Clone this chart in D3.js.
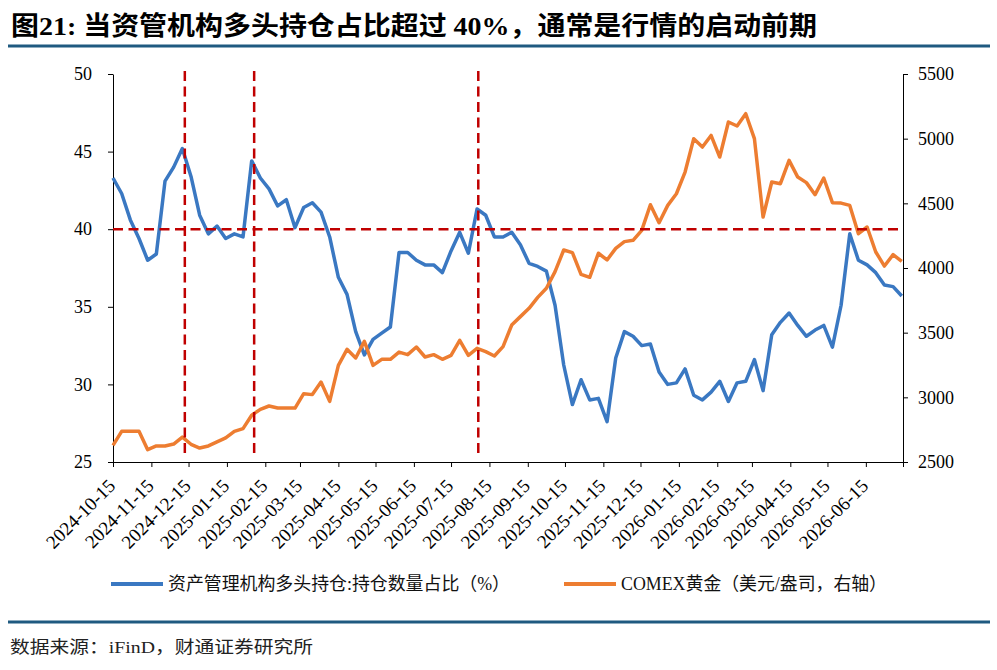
<!DOCTYPE html>
<html>
<head>
<meta charset="utf-8">
<script src="https://cdn.jsdelivr.net/npm/d3@7"></script>
<style>
  body { margin: 0; background: #fff; }
  svg { display: block; }
  .axis text { font-family: "Liberation Serif", "Times New Roman", serif; font-size: 18px; fill: #000; }
  .axis path, .axis line { stroke: #000; }
</style>
</head>
<body>
<svg id="chart"></svg>
<script>
// weekly data (Tuesdays), first week 2024-10-15
const startDate = "2024-10-15";
const axisEnd = "2026-07-15";

// 资产管理机构多头持仓:持仓数量占比（%）
const longShare = [
  43.3, 42.3, 40.6, 39.4, 38.0, 38.4, 43.1, 44.0, 45.2, 43.4,
  40.9, 39.7, 40.2, 39.4, 39.7, 39.5, 44.4, 43.3, 42.6, 41.5,
  41.9, 40.1, 41.4, 41.7, 41.1, 39.5, 36.9, 35.8, 33.4, 31.9,
  32.9, 33.3, 33.7, 38.5, 38.5, 38.0, 37.7, 37.7, 37.2, 38.6,
  39.8, 38.45, 41.3, 40.9, 39.5, 39.5, 39.8, 39.0, 37.8, 37.6,
  37.3, 35.1, 31.25, 28.7, 30.3, 29.0, 29.1, 27.6, 31.7, 33.4,
  33.1, 32.5, 32.6, 30.8, 30.0, 30.1, 31.0, 29.3, 29.0, 29.5,
  30.2, 28.9, 30.1, 30.2, 31.6, 29.6, 33.2, 34.0, 34.6, 33.8,
  33.1, 33.5, 33.8, 32.4, 35.1, 39.7, 38.0, 37.7, 37.2, 36.4,
  36.3, 35.7
];

// COMEX黄金（美元/盎司，右轴）
const goldPrice = [
  2629, 2737, 2737, 2737, 2595, 2624, 2624, 2639, 2693, 2637,
  2608, 2624, 2655, 2686, 2737, 2758, 2861, 2907, 2933, 2917,
  2917, 2917, 3028, 3021, 3118, 2969, 3247, 3371, 3304, 3433,
  3247, 3294, 3294, 3350, 3330, 3389, 3312, 3330, 3294, 3325,
  3441, 3325, 3379, 3353, 3320, 3392, 3559, 3624, 3688, 3773,
  3843, 3972, 4139, 4119, 3951, 3928, 4114, 4062, 4152, 4204,
  4214, 4291, 4489, 4350, 4484, 4574, 4742, 5000, 4935, 5025,
  4858, 5129, 5098, 5193, 5000, 4394, 4665, 4652, 4832, 4703,
  4660, 4567, 4696, 4505, 4502, 4484, 4265, 4317, 4124, 4015,
  4103, 4051
];

const xTickLabels = [
  "2024-10-15", "2024-11-15", "2024-12-15", "2025-01-15", "2025-02-15",
  "2025-03-15", "2025-04-15", "2025-05-15", "2025-06-15", "2025-07-15",
  "2025-08-15", "2025-09-15", "2025-10-15", "2025-11-15", "2025-12-15",
  "2026-01-15", "2026-02-15", "2026-03-15", "2026-04-15", "2026-05-15",
  "2026-06-15"
];
const leftTicks = [25, 30, 35, 40, 45, 50];
const rightTicks = [2500, 3000, 3500, 4000, 4500, 5000, 5500];
const markerDates = ["2024-12-12", "2025-02-06", "2025-08-06"];
const threshold = 40;

const title = "图21: 当资管机构多头持仓占比超过 40%，通常是行情的启动前期";
const legendNames = ["资产管理机构多头持仓:持仓数量占比（%）", "COMEX黄金（美元/盎司，右轴）"];
const source = "数据来源：iFinD，财通证券研究所";

const blue = "#3a78c2";
const orange = "#ed7d31";
const red = "#c00000";
const rule = "#1f5a80";

const W = 997, H = 670;
const plot = { left: 113, right: 903, top: 74, bottom: 462 };

const parse = d3.utcParse("%Y-%m-%d");
const weeks = d3.utcTuesday.range(parse(startDate), d3.utcDay.offset(parse(startDate), 7 * longShare.length));
const data = weeks.map((d, i) => ({ date: d, share: longShare[i], gold: goldPrice[i] }));

const svg = d3.select("#chart").attr("width", W).attr("height", H);
svg.append("rect").attr("width", W).attr("height", H).attr("fill", "#fff");

const x = d3.scaleUtc()
  .domain([parse(startDate), parse(axisEnd)])
  .range([plot.left, plot.right]);
const yL = d3.scaleLinear().domain([25, 50]).range([plot.bottom, plot.top]);
const yR = d3.scaleLinear().domain([2500, 5500]).range([plot.bottom, plot.top]);

// title + rules
svg.append("text")
  .attr("x", 11).attr("y", 35)
  .attr("textLength", 806).attr("lengthAdjust", "spacingAndGlyphs")
  .style("font-family", '"Liberation Serif", "Noto Sans CJK SC", serif')
  .style("font-weight", "bold").style("font-size", "26px").attr("fill", "#000")
  .text(title);
svg.append("line").attr("x1", 8).attr("x2", 990).attr("y1", 46).attr("y2", 46)
  .attr("stroke", rule).attr("stroke-width", 3);
svg.append("line").attr("x1", 8).attr("x2", 990).attr("y1", 622).attr("y2", 622)
  .attr("stroke", rule).attr("stroke-width", 3);
svg.append("text")
  .attr("x", 10).attr("y", 653)
  .attr("textLength", 303).attr("lengthAdjust", "spacingAndGlyphs")
  .style("font-family", '"Liberation Serif", "Noto Sans CJK SC", serif')
  .style("font-size", "17px").attr("fill", "#222")
  .text(source);

// axes
svg.append("g").attr("class", "axis")
  .attr("transform", `translate(${plot.left},0)`)
  .call(d3.axisLeft(yL).tickValues(leftTicks).tickSize(5).tickSizeOuter(0).tickPadding(16));

svg.append("g").attr("class", "axis")
  .attr("transform", `translate(${plot.right},0)`)
  .call(d3.axisRight(yR).tickValues(rightTicks).tickFormat(d3.format("d"))
    .tickSize(5).tickSizeOuter(0).tickPadding(10));

const xTicks = xTickLabels.map(parse).concat([parse(axisEnd)]);
const fmt = d3.utcFormat("%Y-%m-%d");
const xAxis = svg.append("g").attr("class", "axis")
  .attr("transform", `translate(0,${plot.bottom})`)
  .call(d3.axisBottom(x).tickValues(xTicks).tickSize(5).tickSizeOuter(0)
    .tickFormat(d => xTickLabels.includes(fmt(d)) ? fmt(d) : ""));
xAxis.selectAll(".tick text")
  .attr("y", 0).attr("dy", null)
  .attr("text-anchor", "end")
  .style("font-size", "19px")
  .attr("transform", "translate(3,25) rotate(-45)");

// series
const lineShare = d3.line().x(d => x(d.date)).y(d => yL(d.share));
const lineGold = d3.line().x(d => x(d.date)).y(d => yR(d.gold));

svg.append("path").datum(data)
  .attr("d", lineShare).attr("fill", "none")
  .attr("stroke", blue).attr("stroke-width", 3.5).attr("stroke-linejoin", "round");
svg.append("path").datum(data)
  .attr("d", lineGold).attr("fill", "none")
  .attr("stroke", orange).attr("stroke-width", 3.5).attr("stroke-linejoin", "round");

// reference lines
svg.append("line")
  .attr("x1", plot.left).attr("x2", plot.right)
  .attr("y1", yL(threshold)).attr("y2", yL(threshold))
  .attr("stroke", red).attr("stroke-width", 2.5).attr("stroke-dasharray", "10,5.5");

svg.selectAll(".marker")
  .data(markerDates.map(parse))
  .enter().append("line")
  .attr("class", "marker")
  .attr("x1", d => x(d)).attr("x2", d => x(d))
  .attr("y1", yL(50) - 3).attr("y2", yL(25) - 7)
  .attr("stroke", red).attr("stroke-width", 2.5).attr("stroke-dasharray", "10,5.5");

// legend
const legend = [
  { name: legendNames[0], color: blue, x: 111, len: 342 },
  { name: legendNames[1], color: orange, x: 564, len: 266 }
];
const lg = svg.append("g").selectAll("g").data(legend).enter().append("g");
lg.append("line")
  .attr("x1", d => d.x).attr("x2", d => d.x + 52)
  .attr("y1", 584).attr("y2", 584)
  .attr("stroke", d => d.color).attr("stroke-width", 4);
lg.append("text")
  .attr("x", d => d.x + 57).attr("y", 590)
  .attr("textLength", d => d.len).attr("lengthAdjust", "spacingAndGlyphs")
  .style("font-family", '"Liberation Serif", "Noto Sans CJK SC", serif')
  .style("font-size", "18px").attr("fill", "#111")
  .text(d => d.name);
</script>
</body>
</html>
